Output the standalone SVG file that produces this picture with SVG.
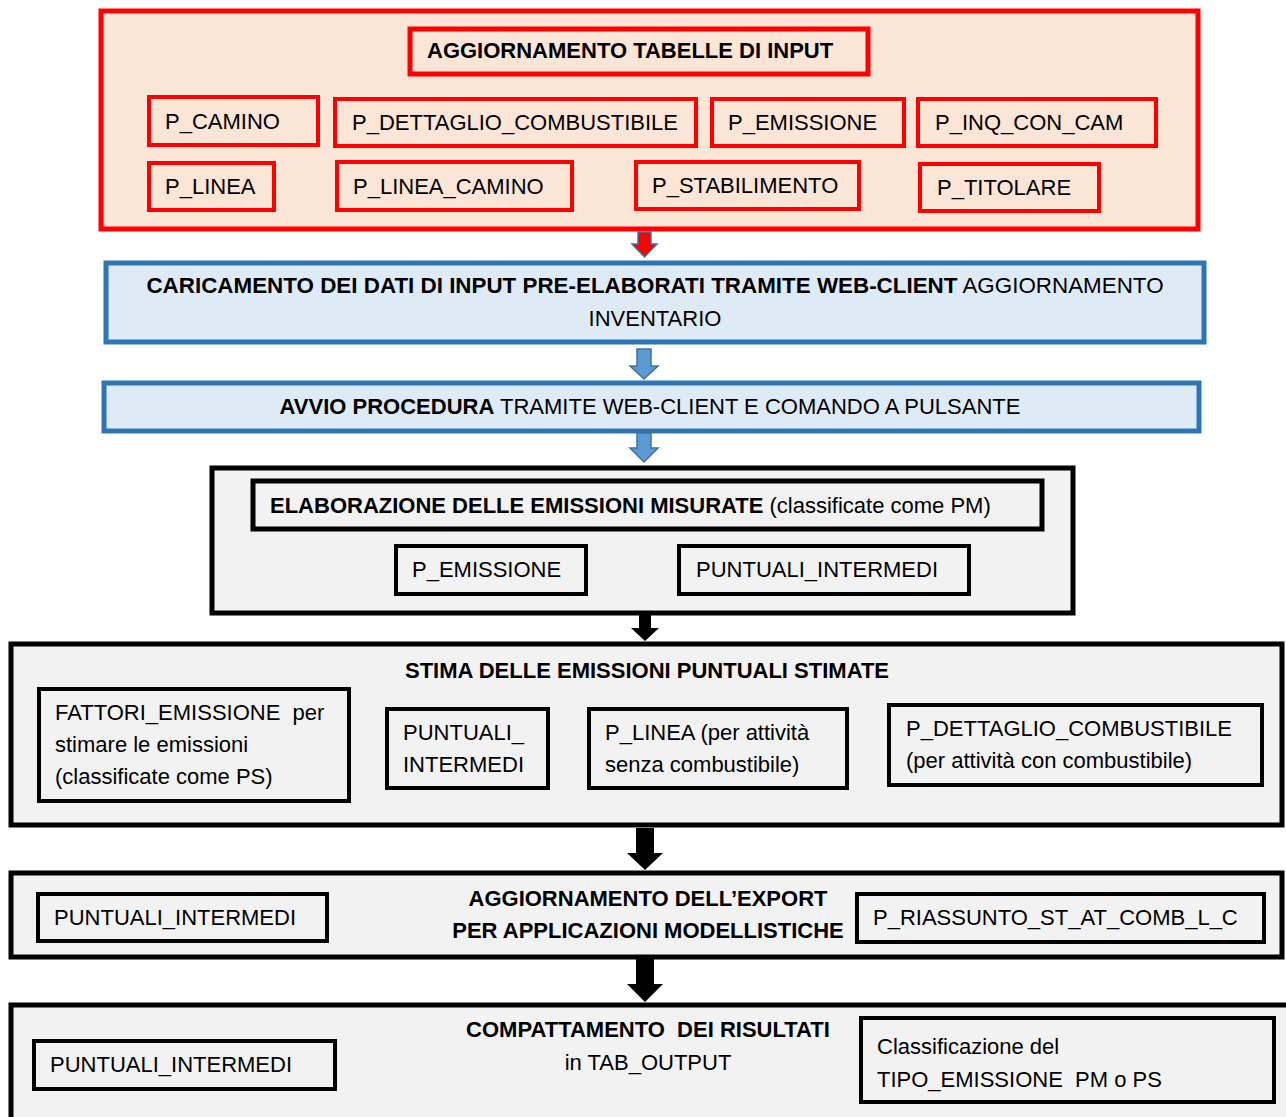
<svg xmlns="http://www.w3.org/2000/svg" width="1286" height="1117" viewBox="0 0 1286 1117">
<style>
text{font-family:"Liberation Sans",Arial,sans-serif;font-size:22px;fill:#000;white-space:pre}
.b{font-weight:bold}
.c{text-anchor:middle}
.red{fill:#FBE5D6;stroke:#FF0000;stroke-width:5}
.redi{fill:#FBE5D6;stroke:#FF0000;stroke-width:4}
.blue{fill:#DEEBF7;stroke:#2E75B6;stroke-width:5}
.blk{fill:#F2F2F2;stroke:#000;stroke-width:5}
.blki{fill:#F2F2F2;stroke:#000;stroke-width:4}
</style>
<rect width="1286" height="1117" fill="#fff"/>
<g id="n-input">
<rect class="red" x="101" y="11" width="1097" height="218"/>
<g id="n-input-title"><rect class="red" x="410" y="29" width="458" height="45"/><text class="b" x="427" y="58">AGGIORNAMENTO TABELLE DI INPUT</text></g>
<g id="n-p-camino"><rect class="redi" x="149" y="97" width="169" height="48"/><text x="165" y="129">P_CAMINO</text></g>
<g id="n-p-dettaglio"><rect class="redi" x="335" y="99" width="361" height="47"/><text x="352" y="130">P_DETTAGLIO_COMBUSTIBILE</text></g>
<g id="n-p-emissione"><rect class="redi" x="712" y="99" width="192" height="47"/><text x="728" y="130">P_EMISSIONE</text></g>
<g id="n-p-inq"><rect class="redi" x="918" y="99" width="238" height="47"/><text x="935" y="130">P_INQ_CON_CAM</text></g>
<g id="n-p-linea"><rect class="redi" x="149" y="163" width="125" height="47"/><text x="165" y="194">P_LINEA</text></g>
<g id="n-p-linea-camino"><rect class="redi" x="337" y="162" width="235" height="48"/><text x="353" y="194">P_LINEA_CAMINO</text></g>
<g id="n-p-stabilimento"><rect class="redi" x="636" y="162" width="223" height="47"/><text x="652" y="193">P_STABILIMENTO</text></g>
<g id="n-p-titolare"><rect class="redi" x="920" y="164" width="179" height="47"/><text x="937" y="195">P_TITOLARE</text></g>
</g>
<g id="n-caricamento">
<rect class="blue" x="106" y="263" width="1098" height="79"/>
<text class="c" x="655" y="293" style="font-size:22.4px"><tspan class="b">CARICAMENTO DEI DATI DI INPUT PRE-ELABORATI TRAMITE WEB-CLIENT</tspan> AGGIORNAMENTO</text>
<text class="c" x="655" y="326">INVENTARIO</text>
</g>
<g id="n-avvio">
<rect class="blue" x="104" y="383" width="1095" height="48"/>
<text class="c" x="650" y="414"><tspan class="b">AVVIO PROCEDURA</tspan> TRAMITE WEB-CLIENT E COMANDO A PULSANTE</text>
</g>
<g id="n-elaborazione">
<rect class="blk" x="212" y="468" width="861" height="145"/>
<g id="n-elab-title"><rect class="blk" x="253" y="481" width="789" height="48"/><text x="270" y="513"><tspan class="b">ELABORAZIONE DELLE EMISSIONI MISURATE</tspan> (classificate come PM)</text></g>
<g id="n-elab-pemi"><rect class="blki" x="396" y="546" width="190" height="48"/><text x="412" y="577">P_EMISSIONE</text></g>
<g id="n-elab-pint"><rect class="blki" x="679" y="546" width="290" height="48"/><text x="696" y="577">PUNTUALI_INTERMEDI</text></g>
</g>
<g id="n-stima">
<rect class="blk" x="11" y="644" width="1271" height="181"/>
<text class="b c" x="647" y="678">STIMA DELLE EMISSIONI PUNTUALI STIMATE</text>
<g id="n-fattori"><rect class="blki" x="39" y="689" width="310" height="112"/><text x="55" y="720">FATTORI_EMISSIONE  per</text><text x="55" y="752">stimare le emissioni</text><text x="55" y="784">(classificate come PS)</text></g>
<g id="n-stima-pint"><rect class="blki" x="387" y="709" width="161" height="79"/><text x="403" y="740">PUNTUALI_</text><text x="403" y="772">INTERMEDI</text></g>
<g id="n-stima-plinea"><rect class="blki" x="589" y="709" width="258" height="79"/><text x="605" y="740">P_LINEA (per attività</text><text x="605" y="772">senza combustibile)</text></g>
<g id="n-stima-pdett"><rect class="blki" x="889" y="705" width="373" height="80"/><text x="906" y="736">P_DETTAGLIO_COMBUSTIBILE</text><text x="906" y="768">(per attività con combustibile)</text></g>
</g>
<g id="n-export">
<rect class="blk" x="11" y="873" width="1271" height="84"/>
<text class="b c" x="648" y="906">AGGIORNAMENTO DELL’EXPORT</text>
<text class="b c" x="648" y="938">PER APPLICAZIONI MODELLISTICHE</text>
<g id="n-exp-pint"><rect class="blki" x="38" y="894" width="289" height="47"/><text x="54" y="925">PUNTUALI_INTERMEDI</text></g>
<g id="n-exp-riass"><rect class="blki" x="857" y="894" width="407" height="48"/><text x="873" y="925">P_RIASSUNTO_ST_AT_COMB_L_C</text></g>
</g>
<g id="n-compattamento">
<rect class="blk" x="11" y="1005" width="1285" height="120"/>
<text class="b c" x="648" y="1037">COMPATTAMENTO  DEI RISULTATI</text>
<text class="c" x="648" y="1070">in TAB_OUTPUT</text>
<g id="n-comp-pint"><rect class="blki" x="34" y="1041" width="301" height="48"/><text x="50" y="1072">PUNTUALI_INTERMEDI</text></g>
<g id="n-comp-class"><rect class="blki" x="861" y="1018" width="413" height="84"/><text x="877" y="1054">Classificazione del</text><text x="877" y="1087">TIPO_EMISSIONE  PM o PS</text></g>
</g>
<g id="connectors">
<polygon points="638,232 651,232 651,244 657,244 644.5,257 632,244 638,244" fill="#FF0000" stroke="#4A6FA5" stroke-width="1.5"/>
<polygon points="637,349 651,349 651,366 658,366 644,379 630,366 637,366" fill="#5B9BD5" stroke="#41719C" stroke-width="1.5"/>
<polygon points="637,433 651,433 651,448 658,448 644,462 630,448 637,448" fill="#5B9BD5" stroke="#41719C" stroke-width="1.5"/>
<polygon points="639,615 651,615 651,628 659,628 645,641 631,628 639,628" fill="#000"/>
<polygon points="636,828 654,828 654,853 663,853 645,870 627,853 636,853" fill="#000"/>
<polygon points="636,959 654,959 654,984 663,984 645,1002 627,984 636,984" fill="#000"/>
</g>
</svg>
